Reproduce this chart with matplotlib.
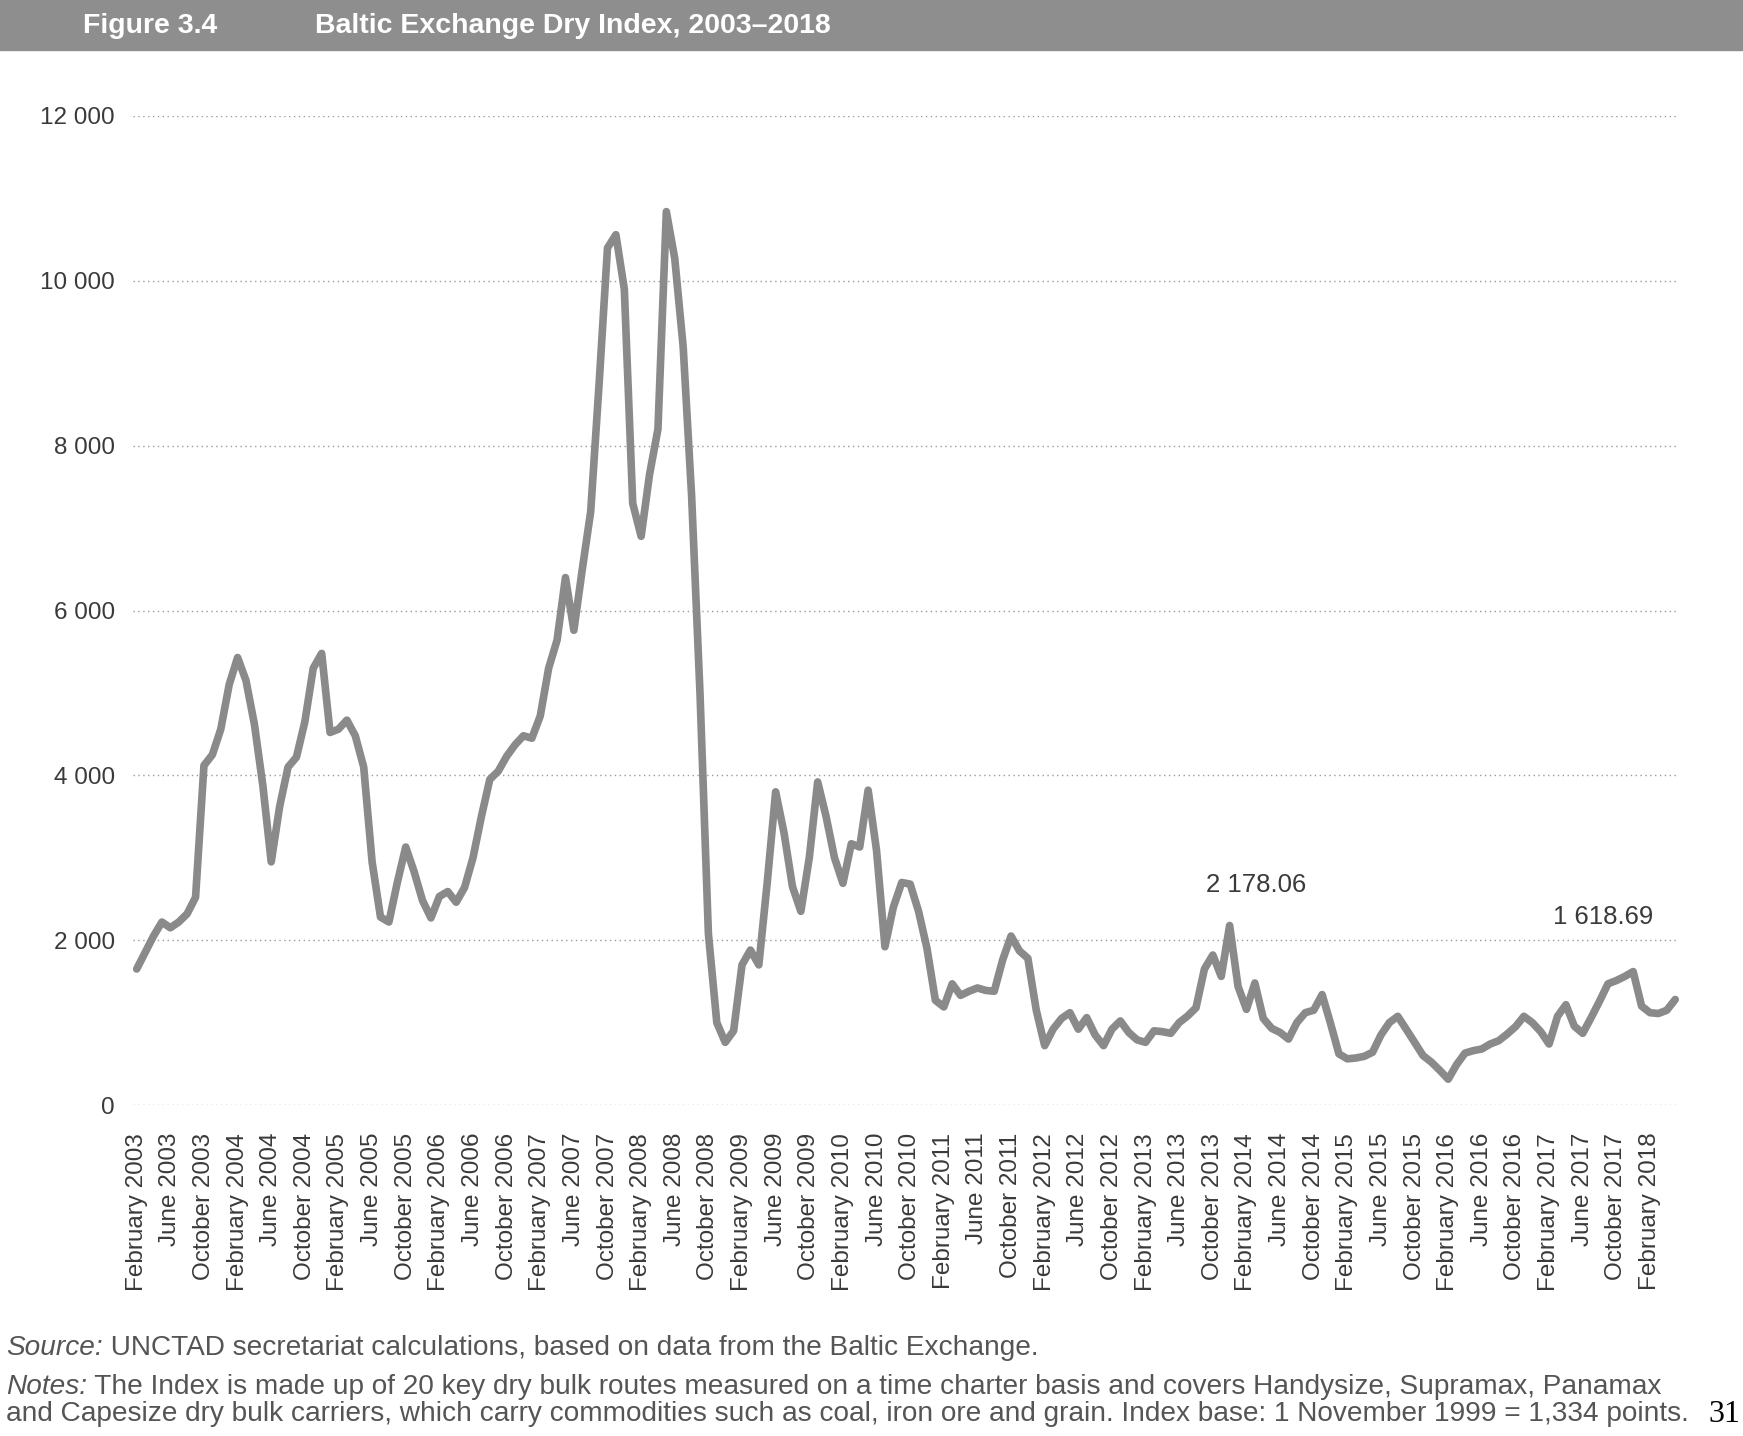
import matplotlib
matplotlib.use('Agg')
import matplotlib.pyplot as plt
from matplotlib.patches import Rectangle
import numpy as np

# monthly Baltic Dry Index, February 2003 - May 2018
bdi = [1650, 1850, 2050, 2220, 2150, 2220, 2320, 2520, 4120, 4250, 4560,
       5100, 5430, 5150, 4620, 3880, 2950, 3620, 4100, 4220, 4650, 5300, 5480,
       4520, 4560, 4670, 4480, 4100, 2950, 2280, 2220, 2700, 3130, 2830, 2480,
       2270, 2530, 2590, 2460, 2640, 3000, 3500, 3950, 4050, 4230, 4370, 4480,
       4450, 4720, 5300, 5640, 6400, 5760, 6500, 7200, 8750, 10400, 10560, 9900,
       7300, 6900, 7650, 8200, 10840, 10270, 9200, 7400, 5000, 2080, 1000, 760,
       900, 1700, 1880, 1700, 2700, 3800, 3300, 2650, 2350, 3000, 3920, 3500,
       3000, 2690, 3170, 3130, 3820, 3090, 1920, 2400, 2700, 2680, 2350, 1900,
       1270, 1190, 1470, 1330, 1380, 1420, 1390, 1380, 1760, 2050, 1870, 1780,
       1150, 720, 920, 1050, 1120, 920, 1060, 850, 720, 920, 1020, 880,
       790, 760, 900, 890, 870, 1000, 1080, 1180, 1650, 1820, 1560, 2178,
       1440, 1160, 1480, 1050, 930, 880, 800, 1000, 1120, 1150, 1340, 990,
       620, 560, 570, 590, 640, 850, 1000, 1076, 920, 760, 600, 520,
       420, 313, 490, 630, 660, 680, 740, 780, 860, 950, 1076, 1000,
       890, 740, 1076, 1217, 956, 870, 1060, 1260, 1470, 1510, 1560, 1619,
       1200, 1120, 1110, 1150, 1280]

tick_months = ['February', 'June', 'October']
tick_labels = [m + ' ' + str(y) for y in range(2003, 2019) for m in tick_months][:46]
y_ticks = [0, 2000, 4000, 6000, 8000, 10000, 12000]

plt.rcParams['font.family'] = ['Liberation Sans', 'DejaVu Sans']

W, H = 1743, 1436
fig = plt.figure(figsize=(W / 100, H / 100), dpi=100)

# grey title band
fig.add_artist(Rectangle((0, 1 - 50 / H), 1, 50 / H, transform=fig.transFigure,
                         color='#8e8e8e', zorder=0))
fig.text(83 / W, 1 - 26 / H, 'Figure 3.4', color='white', fontsize=20.5,
         fontweight='bold', va='center')
fig.text(315 / W, 1 - 26 / H, 'Baltic Exchange Dry Index, 2003\u20132018', color='white',
         fontsize=20.5, fontweight='bold', va='center')

ax = fig.add_axes([133 / W, 1 - 1105 / H, (1679 - 133) / W, (1105 - 116) / H])
x = np.arange(len(bdi))
ax.plot(x, bdi, color='#8a8a8a', linewidth=5.5, solid_joinstyle='round',
        solid_capstyle='round')
ax.set_xlim(-0.44, 183.45)
ax.set_ylim(0, 12000)
ax.set_yticks(y_ticks)
ax.set_yticklabels([f'{v:,}'.replace(',', ' ') for v in y_ticks])
ax.set_xticks(x[::4])
ax.set_xticklabels(tick_labels, rotation=90, va='top', ha='center')
ax.tick_params(length=0, labelsize=17.5, colors='#3a3a3a')
ax.tick_params(axis='y', pad=13)
ax.tick_params(axis='x', pad=20)
for s in ax.spines.values():
    s.set_visible(False)
ax.grid(axis='y', linestyle=(0, (1, 2.5)), color='#9a9a9a', linewidth=1)
ax.set_axisbelow(True)

ax.text(133.1, 2670, '2 178.06', ha='center', va='center', fontsize=18.5, color='#3a3a3a')
ax.text(174.4, 2280, '1 618.69', ha='center', va='center', fontsize=18.5, color='#3a3a3a')

# source and notes
note_size = 20.2
note_col = '#555555'
lines = [(1348, 'Source:', ' UNCTAD secretariat calculations, based on data from the Baltic Exchange.'),
         (1387, 'Notes:', ' The Index is made up of 20 key dry bulk routes measured on a time charter basis and covers Handysize, Supramax, Panamax'),
         (1414, '', 'and Capesize dry bulk carriers, which carry commodities such as coal, iron ore and grain. Index base: 1 November 1999 = 1,334 points.')]
fig.canvas.draw()
r = fig.canvas.get_renderer()
for ypix, head, body in lines:
    x0 = 6
    if head:
        t = fig.text(x0 / W, 1 - ypix / H, head, fontsize=note_size, style='italic',
                     color=note_col, va='center')
        x0 = t.get_window_extent(r).x1
    fig.text(x0 / W, 1 - ypix / H, body, fontsize=note_size, color=note_col, va='center')
fig.text(1708 / W, 1 - 1414 / H, '31', fontsize=23, family=['Liberation Serif', 'DejaVu Serif'],
         color='black', va='center')

fig.savefig('out.png', dpi=100)
